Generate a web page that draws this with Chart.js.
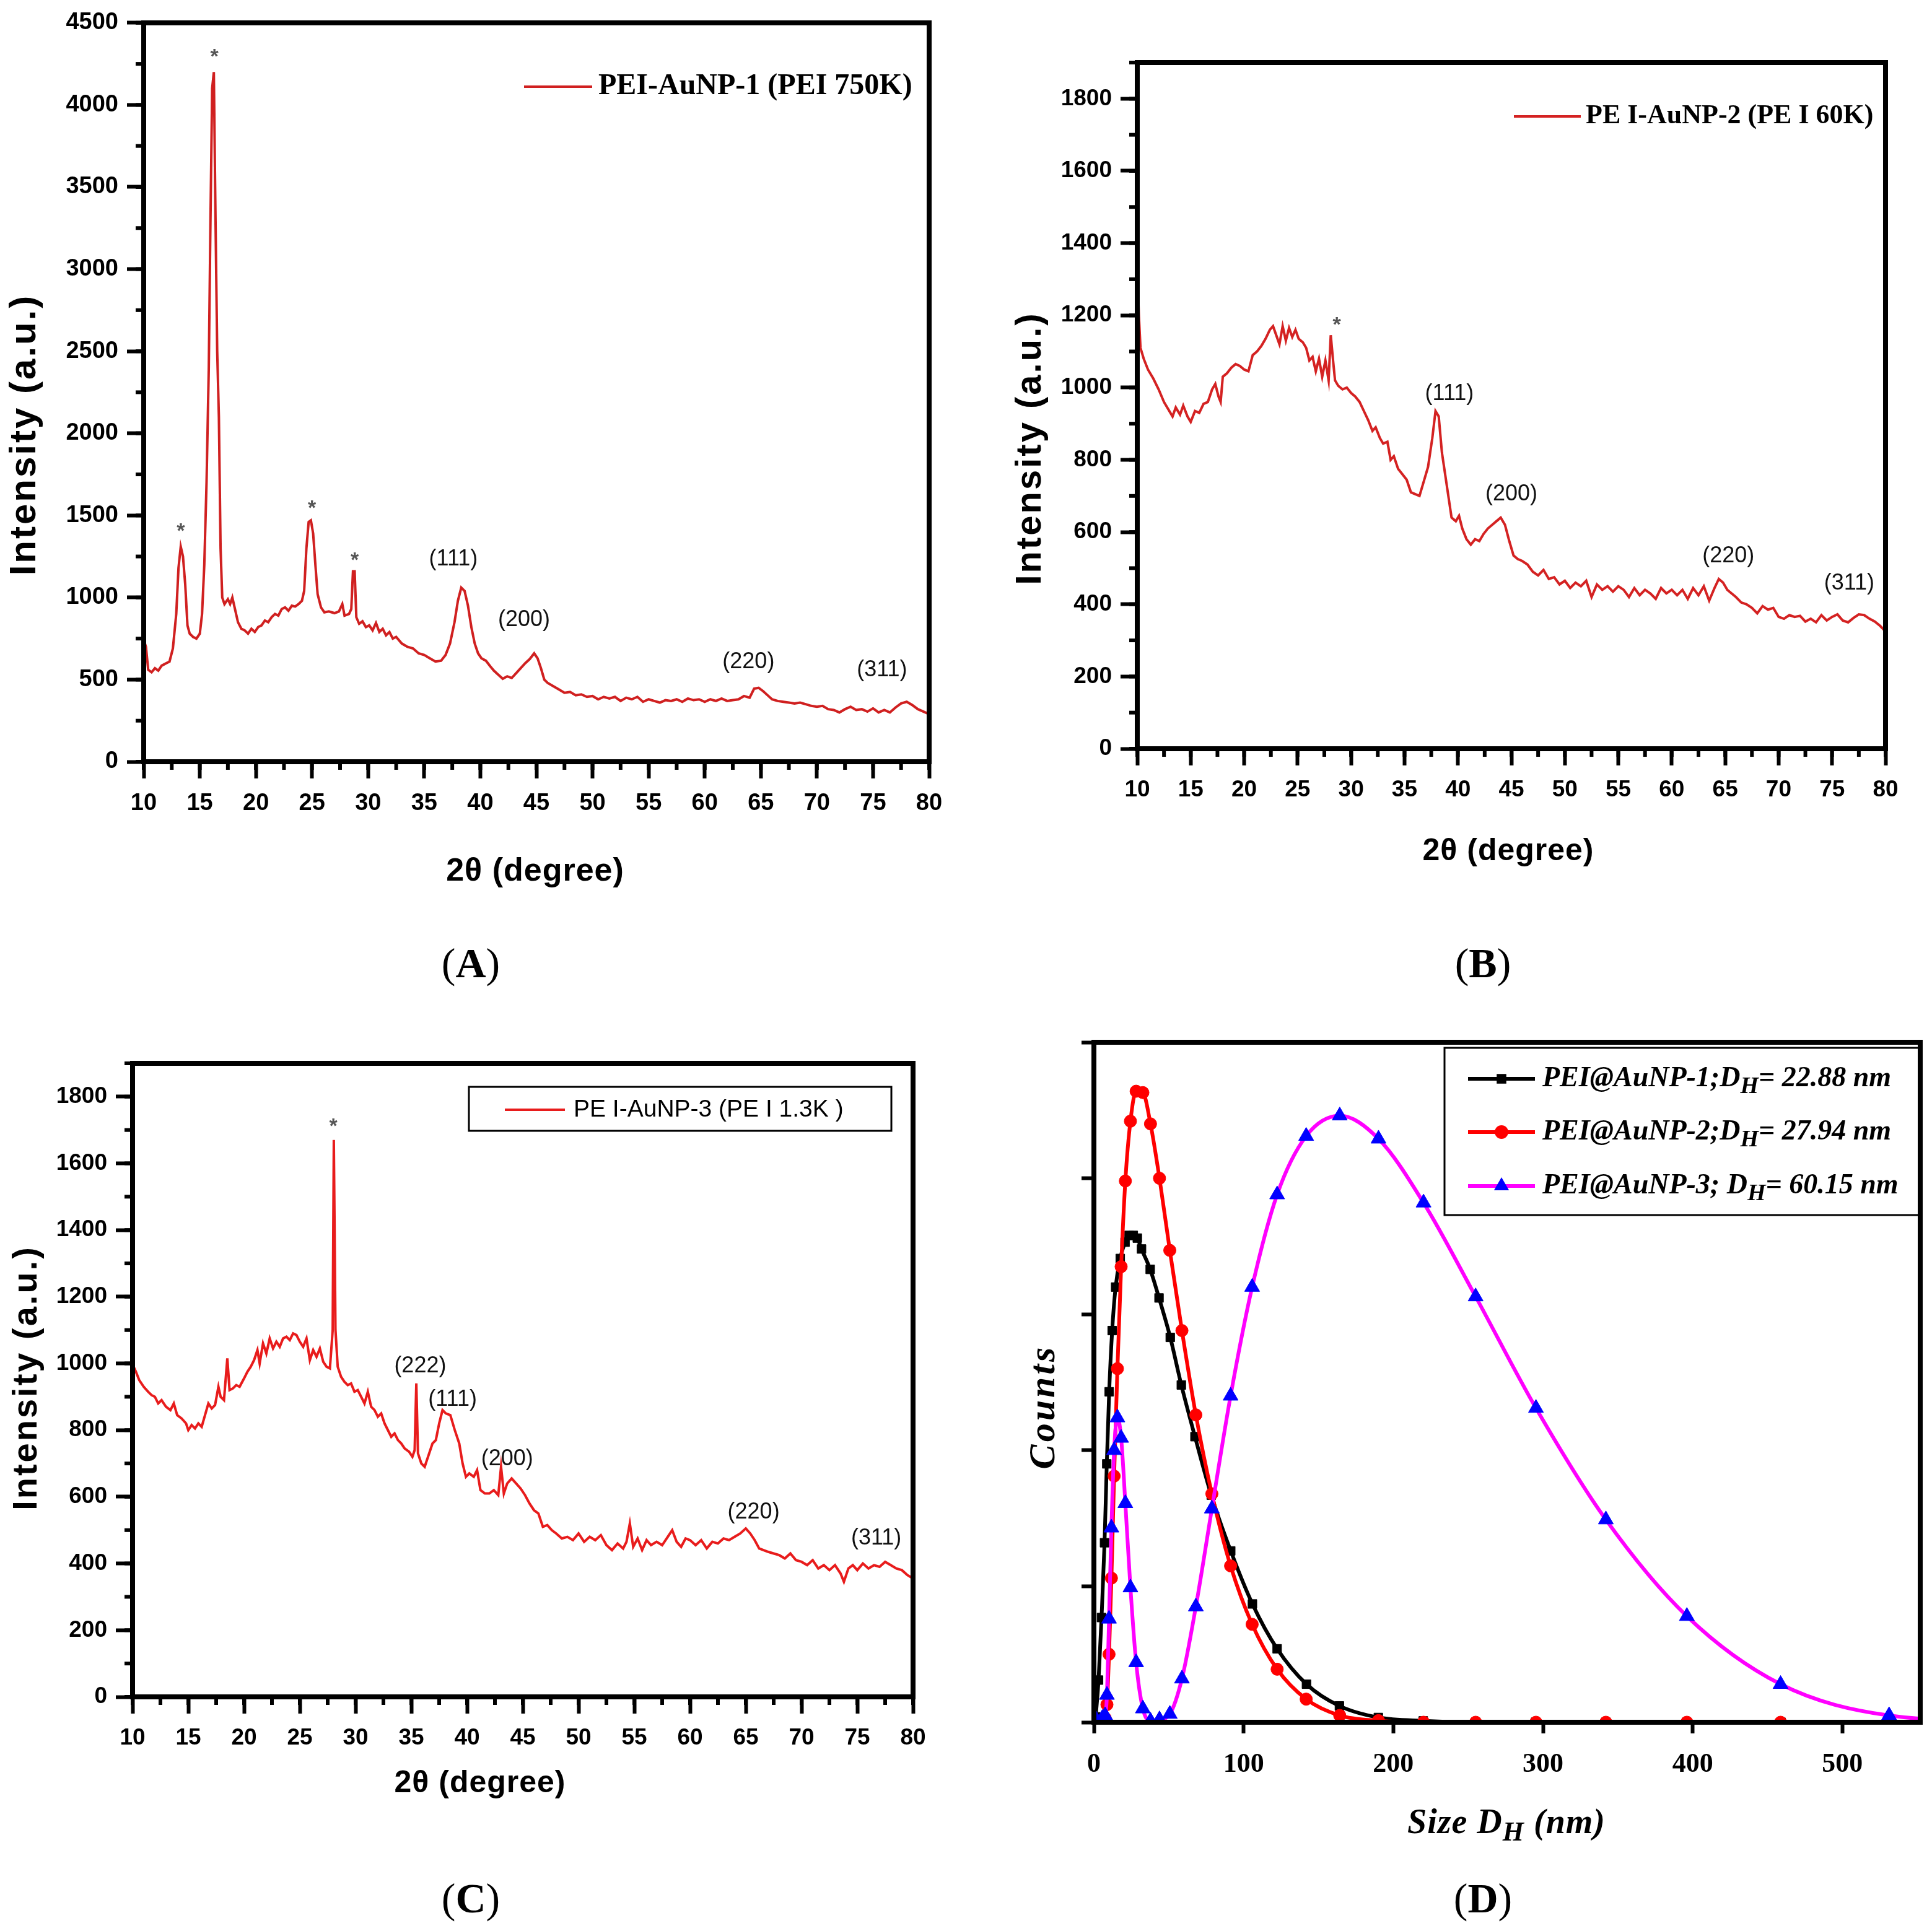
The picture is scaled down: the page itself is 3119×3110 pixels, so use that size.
<!DOCTYPE html>
<html>
<head>
<meta charset="utf-8">
<script src="https://cdn.jsdelivr.net/npm/chart.js@4.4.0/dist/chart.umd.min.js"></script>
<style>
    body { margin: 0; background: #fff; width: 3119px; height: 3110px; position: relative; overflow: hidden; }
    canvas { position: absolute; }
</style>
</head>
<body>
<canvas id="chartA" width="1560" height="1640" style="left:0;top:0"></canvas>
<canvas id="chartB" width="1559" height="1640" style="left:1560px;top:0"></canvas>
<canvas id="chartC" width="1560" height="1470" style="left:0;top:1640px"></canvas>
<canvas id="chartD" width="1559" height="1470" style="left:1560px;top:1640px"></canvas>
<script>
// XRD patterns (A-C) and DLS size distributions (D)

// ---- data ----
const thetaA = [10.0,10.2,10.4,10.7,11.0,11.3,11.6,12.0,12.3,12.6,12.9,13.1,13.3,13.5,13.7,13.9,14.1,14.4,14.7,15.0,
    15.2,15.4,15.6,15.8,15.95,16.1,16.25,16.4,16.55,16.7,16.85,17.0,17.2,17.5,17.7,17.9,18.1,18.4,18.7,19.0,
    19.3,19.6,19.9,20.2,20.5,20.8,21.1,21.4,21.7,22.0,22.3,22.6,22.9,23.2,23.5,23.8,24.1,24.3,24.5,24.7,
    24.9,25.1,25.3,25.5,25.8,26.1,26.5,27.0,27.4,27.7,27.9,28.3,28.5,28.65,28.8,28.95,29.2,29.5,29.8,30.1,
    30.4,30.7,31.0,31.3,31.6,31.9,32.2,32.5,33.0,33.5,34.0,34.5,35.0,35.5,36.0,36.5,36.9,37.3,37.7,38.0,
    38.3,38.6,38.9,39.2,39.5,39.8,40.1,40.5,40.9,41.2,41.6,42.0,42.4,42.8,43.2,43.6,44.0,44.4,44.8,45.1,
    45.4,45.7,46.0,46.5,47.0,47.5,48.0,48.5,49.0,49.5,50.0,50.5,51.0,51.5,52.0,52.5,53.0,53.5,54.0,54.5,
    55.0,55.5,56.0,56.5,57.0,57.5,58.0,58.5,59.0,59.5,60.0,60.5,61.0,61.5,62.0,62.5,63.0,63.5,64.0,64.4,
    64.8,65.2,65.6,66.0,66.5,67.0,67.5,68.0,68.5,69.0,69.5,70.0,70.5,71.0,71.5,72.0,72.5,73.0,73.5,74.0,
    74.5,75.0,75.5,76.0,76.5,77.0,77.5,78.0,78.5,79.0,79.5,80.0];
const intensityA = [744,700,560,545,570,555,585,600,610,690,900,1180,1310,1250,1080,830,780,760,750,780,
    900,1200,1700,2400,3300,4100,4200,3300,2500,2100,1300,1000,960,990,960,1000,940,850,810,800,
    780,810,790,820,830,860,850,880,900,890,930,940,920,950,945,960,980,1040,1300,1460,
    1470,1390,1200,1020,940,910,915,905,915,960,890,900,930,1160,1160,880,840,855,820,830,
    800,845,790,810,770,790,750,760,720,700,690,660,650,630,610,615,650,720,850,980,
    1060,1040,950,820,720,660,630,615,580,555,530,505,520,510,540,570,600,625,660,630,
    570,500,480,460,440,420,425,405,410,395,400,380,395,385,395,370,390,380,395,365,
    380,370,360,375,370,380,365,385,375,380,365,380,370,385,370,375,380,400,390,445,
    450,430,405,380,370,365,360,355,360,350,340,335,340,320,315,300,320,335,315,320,
    305,325,300,315,300,330,355,365,345,320,305,290];

const thetaB = [10.0,10.15,10.3,10.6,11.0,11.5,12.0,12.5,13.0,13.3,13.6,14.0,14.3,14.7,15.0,15.4,15.8,16.2,16.6,17.0,
    17.3,17.6,17.8,18.0,18.4,18.8,19.2,19.6,20.0,20.4,20.8,21.2,21.6,22.0,22.4,22.7,23.0,23.3,23.6,23.9,
    24.2,24.5,24.8,25.1,25.5,25.8,26.1,26.4,26.7,27.0,27.3,27.6,27.9,28.1,28.3,28.5,28.8,29.2,29.6,30.0,
    30.4,30.8,31.2,31.6,32.0,32.3,32.7,33.0,33.4,33.7,34.0,34.4,34.8,35.2,35.6,36.0,36.4,36.8,37.2,37.6,
    37.9,38.2,38.5,38.8,39.1,39.4,39.8,40.1,40.4,40.8,41.2,41.6,42.0,42.4,42.8,43.2,43.6,44.0,44.4,44.8,
    45.2,45.6,46.0,46.5,47.0,47.5,48.0,48.5,49.0,49.5,50.0,50.5,51.0,51.5,52.0,52.5,53.0,53.5,54.0,54.5,
    55.0,55.5,56.0,56.5,57.0,57.5,58.0,58.5,59.0,59.5,60.0,60.5,61.0,61.5,62.0,62.5,63.0,63.5,64.0,64.4,
    64.8,65.2,65.6,66.0,66.5,67.0,67.5,68.0,68.5,69.0,69.5,70.0,70.5,71.0,71.5,72.0,72.5,73.0,73.5,74.0,
    74.5,75.0,75.5,76.0,76.5,77.0,77.5,78.0,78.5,79.0,79.5,80.0];
const intensityB = [1330,1200,1110,1080,1050,1025,995,960,935,920,945,925,950,920,905,935,930,955,960,995,
    1010,975,960,1030,1040,1055,1065,1060,1050,1045,1090,1100,1115,1135,1160,1170,1145,1120,1170,1130,
    1165,1140,1160,1135,1125,1110,1075,1085,1045,1080,1030,1075,1020,1145,1080,1020,1005,995,1000,985,
    975,960,935,910,880,890,860,845,850,800,810,775,760,745,710,705,700,740,780,860,
    935,920,820,760,700,640,630,645,610,580,565,580,575,595,610,620,630,640,620,575,
    535,525,520,510,490,480,495,470,475,455,465,445,460,450,465,420,455,440,450,435,
    450,440,420,445,425,440,430,415,445,430,440,425,440,415,445,425,450,410,445,470,
    460,440,430,420,405,400,390,375,395,385,390,365,360,370,365,368,352,360,350,370,
    355,365,372,355,350,362,372,370,360,352,340,325];

const thetaC = [10.0,10.1,10.3,10.6,11.0,11.4,11.7,12.0,12.3,12.6,13.0,13.4,13.7,14.0,14.4,14.8,15.0,15.3,15.6,15.9,
    16.2,16.5,16.8,17.1,17.4,17.7,17.9,18.2,18.5,18.7,19.0,19.3,19.6,20.0,20.3,20.6,20.9,21.2,21.4,21.7,
    22.0,22.3,22.6,22.9,23.2,23.5,23.8,24.1,24.4,24.7,25.0,25.3,25.6,25.9,26.2,26.5,26.8,27.1,27.4,27.7,
    27.95,28.05,28.2,28.4,28.7,29.0,29.3,29.6,29.9,30.2,30.5,30.8,31.1,31.4,31.7,32.0,32.3,32.6,32.9,33.2,
    33.5,33.8,34.1,34.4,34.8,35.1,35.3,35.45,35.6,35.9,36.2,36.5,36.9,37.2,37.5,37.8,38.1,38.5,38.9,39.3,
    39.6,39.9,40.2,40.6,40.9,41.2,41.6,42.0,42.4,42.8,43.05,43.3,43.6,44.0,44.4,44.8,45.2,45.6,46.0,46.4,
    46.8,47.2,47.6,48.0,48.5,49.0,49.5,50.0,50.5,51.0,51.5,52.0,52.5,53.0,53.5,54.0,54.3,54.6,54.9,55.3,
    55.7,56.1,56.5,57.0,57.5,58.0,58.4,58.8,59.2,59.6,60.0,60.5,61.0,61.5,62.0,62.5,63.0,63.5,64.0,64.5,
    65.0,65.4,65.8,66.2,66.6,67.0,67.5,68.0,68.5,69.0,69.5,70.0,70.5,71.0,71.5,72.0,72.5,73.0,73.5,73.8,
    74.2,74.6,75.0,75.5,76.0,76.5,77.0,77.5,78.0,78.5,79.0,79.5,80.0];
const intensityC = [1220,990,975,950,930,915,905,900,880,890,870,860,880,845,835,820,800,815,805,820,
    810,845,880,865,875,930,900,890,1015,920,925,935,930,955,975,990,1010,1040,1000,1060,
    1030,1075,1045,1065,1050,1075,1080,1070,1090,1085,1065,1050,1075,1010,1040,1020,1045,1005,990,985,
    1100,1670,1100,990,960,945,935,940,915,920,900,880,915,870,860,840,850,820,800,780,
    790,770,760,745,735,720,740,940,730,700,690,720,760,770,820,860,850,845,800,760,
    700,660,670,660,680,620,610,610,620,605,690,610,640,655,640,625,605,580,560,550,
    510,515,500,490,475,480,470,490,465,480,470,485,455,440,460,445,465,520,450,475,
    440,470,455,465,455,480,500,465,450,475,470,455,470,445,465,460,475,470,480,490,
    505,490,470,445,440,435,430,425,415,430,410,405,395,410,385,395,380,395,370,345,
    385,395,380,400,385,395,390,405,395,385,380,365,355];

const sizeD1 = [1.2,3.1,5.1,7.1,8.6,10.2,12.2,14.5,17.6,20.8,23.5,26.3,29.0,31.8,37.6,43.5,51.0,58.4,67.5,78.4,
    91.4,105.9,122.4,142.0,164.0,190.0,220.0,255.0,295.0,342.0,396.0,459.0,532.0];
const countsD1 = [0.04,0.31,0.77,1.32,1.90,2.43,2.88,3.20,3.41,3.53,3.58,3.58,3.56,3.48,3.33,3.12,2.83,2.48,2.10,1.67,
    1.26,0.87,0.54,0.28,0.12,0.035,0.01,0,0,0,0,0,0];

const sizeD2 = [6.5,7.5,8.7,10.1,11.7,13.5,15.7,18.2,21.0,24.4,28.2,32.7,37.8,43.8,50.7,58.8,68.1,78.8,91.3,105.7,
    122.4,141.8,164.2,190.1,220.2,255.0,295.3,342.0,396.1,458.7,531.2];
const countsD2 = [0,0.03,0.13,0.50,1.06,1.81,2.60,3.35,3.98,4.42,4.64,4.63,4.40,4.00,3.47,2.88,2.26,1.68,1.15,0.72,
    0.39,0.17,0.05,0.012,0,0,0,0,0,0,0];

const sizeD3 = [1.0,5.6,7.5,8.7,10.1,11.7,13.5,15.7,18.2,21.0,24.4,28.2,32.7,37.8,43.8,50.7,58.8,68.1,78.8,91.3,
    105.7,122.4,141.8,164.2,190.1,220.2,255.0,295.3,342.0,396.1,458.7,531.2,615.1];
const countsD3 = [0.03,0.03,0.05,0.20,0.76,1.43,2.00,2.24,2.09,1.61,0.99,0.44,0.10,0.01,0.02,0.06,0.32,0.85,1.57,2.40,
    3.20,3.88,4.31,4.46,4.29,3.82,3.13,2.31,1.49,0.78,0.28,0.05,0.005];

// tick values
const xrdTicks = [10,15,20,25,30,35,40,45,50,55,60,65,70,75,80];
const yTicksA = [0,500,1000,1500,2000,2500,3000,3500,4000,4500];
const yTicksBC = [0,200,400,600,800,1000,1200,1400,1600,1800];
const dlsTicksX = [0,100,200,300,400,500];
const dlsTicksY = [0,1,2,3,4,5];

// peak labels: [2theta, intensity, text]
const peaksA = [[13.3,1400,'*'],[16.3,4290,'*'],[25.0,1540,'*'],[28.8,1225,'*'],
    [37.6,1232,'(111)'],[43.9,864,'(200)'],[63.9,608,'(220)'],[75.8,556,'(311)']];
const peaksB = [[28.66,1171,'*'],[39.2,982,'(111)'],[45.0,705,'(200)'],[65.3,533,'(220)'],[76.6,458,'(311)']];
const peaksC = [[28.0,1709,'*'],[35.8,992,'(222)'],[38.7,892,'(111)'],[43.6,713,'(200)'],[65.7,553,'(220)'],[76.7,475,'(311)']];

const SANS = '"Liberation Sans", Arial, sans-serif';
const SERIF = '"Liberation Serif", "Times New Roman", serif';

// draw a row of text pieces [text, font, dy], centred (or left) at x
function drawRuns(ctx, runs, x, y, align) {
    let total = 0;
    runs.forEach(r => { ctx.font = r[1]; total += ctx.measureText(r[0]).width; });
    let cx = align === 'left' ? x : x - total / 2;
    ctx.textAlign = 'left';
    ctx.textBaseline = 'middle';
    runs.forEach(r => {
        ctx.font = r[1];
        ctx.fillText(r[0], cx, y + (r[2] || 0));
        cx += ctx.measureText(r[0]).width;
    });
}

const decor = {
    id: 'decor',
    afterDraw(chart, args, o) {
        const ctx = chart.ctx, a = chart.chartArea;
        const xs = chart.scales.x, ys = chart.scales.y;
        const ox = o.origin[0], oy = o.origin[1];
        ctx.save();
        ctx.strokeStyle = '#000';
        ctx.fillStyle = '#000';

        // minor ticks
        ctx.lineWidth = 6;
        if (o.minorX) {
            for (let v = xs.min; v <= xs.max + 1e-9; v += o.minorX) {
                const px = xs.getPixelForValue(v);
                ctx.beginPath(); ctx.moveTo(px, a.bottom); ctx.lineTo(px, a.bottom + o.minorLen); ctx.stroke();
            }
        }
        if (o.minorY) {
            for (let v = ys.min; v <= ys.max + 1e-9; v += o.minorY) {
                const py = ys.getPixelForValue(v);
                ctx.beginPath(); ctx.moveTo(a.left, py); ctx.lineTo(a.left - o.minorLen, py); ctx.stroke();
            }
        }

        // frame
        ctx.lineWidth = o.frameWidth;
        ctx.strokeRect(a.left, a.top, a.right - a.left, a.bottom - a.top);

        // peak labels
        (o.peaks || []).forEach(p => {
            const star = p[2] === '*';
            ctx.fillStyle = star ? '#555' : '#111';
            ctx.font = star ? 'bold 34px ' + SANS : '36px ' + SANS;
            ctx.textAlign = 'center';
            ctx.textBaseline = 'middle';
            ctx.fillText(p[2], xs.getPixelForValue(p[0]), ys.getPixelForValue(p[1]));
        });
        ctx.fillStyle = '#000';

        // legend box
        if (o.legendBox) {
            const b = o.legendBox;
            ctx.lineWidth = 3;
            ctx.strokeRect(b[0] - ox, b[1] - oy, b[2] - b[0], b[3] - b[1]);
        }
        (o.legend || []).forEach(e => {
            ctx.strokeStyle = e.color;
            ctx.lineWidth = e.lineWidth;
            ctx.beginPath(); ctx.moveTo(e.x1 - ox, e.y - oy); ctx.lineTo(e.x2 - ox, e.y - oy); ctx.stroke();
            if (e.marker) {
                ctx.fillStyle = e.markerColor;
                ctx.strokeStyle = e.markerColor;
                ctx.lineWidth = 1;
                Chart.helpers.drawPoint(ctx, {pointStyle: e.marker, radius: e.radius, rotation: 0},
                    (e.x1 + e.x2) / 2 - ox, e.y - oy);
            }
            ctx.fillStyle = '#000';
            drawRuns(ctx, e.runs, e.tx - ox, e.y - oy, 'left');
        });

        // axis titles
        if (o.xTitle) {
            if (o.xTitle.spacing) ctx.letterSpacing = o.xTitle.spacing;
            drawRuns(ctx, o.xTitle.runs, o.xTitle.x - ox, o.xTitle.y - oy);
            ctx.letterSpacing = '0px';
        }
        if (o.yTitle) {
            ctx.save();
            ctx.translate(o.yTitle.x - ox, o.yTitle.y - oy);
            ctx.rotate(-Math.PI / 2);
            if (o.yTitle.spacing) ctx.letterSpacing = o.yTitle.spacing;
            drawRuns(ctx, o.yTitle.runs, 0, 0);
            ctx.restore();
        }

        // panel label
        if (o.panel) {
            const f = '68px ' + SERIF;
            drawRuns(ctx, [['(', f], [o.panel.text, 'bold ' + f], [')', f]], o.panel.x - ox, o.panel.y - oy);
        }
        ctx.restore();
    }
};

function axisCommon(tickValues, font, tickLen, pad) {
    return {
        type: 'linear',
        afterBuildTicks: s => { s.ticks = tickValues.map(v => ({value: v})); },
        ticks: {
            color: '#000',
            font: font,
            padding: pad,
            autoSkip: false,
            maxRotation: 0,
            callback: v => String(v)
        },
        grid: {
            drawOnChartArea: false,
            color: '#000',
            tickLength: tickLen,
            tickWidth: 6
        },
        border: { display: false }
    };
}

function makeChart(id, frame, origin, size, datasets, xAxis, yAxis, deco) {
    xAxis.afterFit = s => { s.height = origin[1] + size[1] - frame.bottom; };
    yAxis.afterFit = s => { s.width = frame.left - origin[0]; };
    deco.origin = origin;
    return new Chart(document.getElementById(id), {
        type: 'line',
        data: { datasets: datasets },
        options: {
            responsive: false,
            animation: false,
            devicePixelRatio: 1,
            events: [],
            layout: {
                padding: {
                    left: 0, bottom: 0,
                    top: frame.top - origin[1],
                    right: origin[0] + size[0] - frame.right
                }
            },
            scales: { x: xAxis, y: yAxis },
            plugins: { legend: { display: false }, tooltip: { enabled: false }, decor: deco }
        },
        plugins: [decor]
    });
}

function xrdSeries(theta, intensity, color) {
    return {
        data: theta.map((t, i) => ({x: t, y: intensity[i]})),
        borderColor: color,
        borderWidth: 4,
        pointRadius: 0,
        tension: 0
    };
}

function xrdAxes(yTicks, ymax, fontSize) {
    const tickFont = {family: SANS, size: fontSize, weight: 'bold'};
    const x = axisCommon(xrdTicks, tickFont, 27, 18);
    x.min = 10; x.max = 80;
    const y = axisCommon(yTicks, tickFont, 27, 14);
    y.min = 0; y.max = ymax;
    return [x, y];
}

function xrdLegend(x1, x2, tx, y, color, text, font) {
    return [{x1: x1, x2: x2, tx: tx, y: y, color: color, lineWidth: 4, runs: [[text, font]]}];
}

// Panel A
(function() {
    const ax = xrdAxes(yTicksA, 4500, 38);
    makeChart('chartA', {left: 232, top: 32, right: 1500, bottom: 1230}, [0, 0], [1560, 1640],
        [xrdSeries(thetaA, intensityA, '#d02020')], ax[0], ax[1], {
            minorX: 2.5, minorY: 250, minorLen: 13, frameWidth: 8,
            peaks: peaksA,
            legend: xrdLegend(846, 956, 966, 140, '#d02020', 'PEI-AuNP-1 (PEI 750K)', 'bold 48px ' + SERIF),
            xTitle: {x: 864, y: 1408, runs: [['2θ (degree)', 'bold 52px ' + SANS]], spacing: '1px'},
            yTitle: {x: 40, y: 702, runs: [['Intensity (a.u.)', 'bold 60px ' + SANS]], spacing: '3px'},
            panel: {x: 760, y: 1560, text: 'A'}
        });
})();

// Panel B
(function() {
    const ax = xrdAxes(yTicksBC, 1900, 37);
    makeChart('chartB', {left: 1836, top: 101, right: 3044, bottom: 1209}, [1560, 0], [1559, 1640],
        [xrdSeries(thetaB, intensityB, '#d42222')], ax[0], ax[1], {
            minorX: 2.5, minorY: 100, minorLen: 13, frameWidth: 8,
            peaks: peaksB,
            legend: xrdLegend(2444, 2552, 2560, 188, '#d42222', 'PE I-AuNP-2 (PE I 60K)', 'bold 44px ' + SERIF),
            xTitle: {x: 2435, y: 1375, runs: [['2θ (degree)', 'bold 50px ' + SANS]], spacing: '1px'},
            yTitle: {x: 1664, y: 724, runs: [['Intensity (a.u.)', 'bold 58px ' + SANS]], spacing: '3px'},
            panel: {x: 2394, y: 1560, text: 'B'}
        });
})();

// Panel C
(function() {
    const ax = xrdAxes(yTicksBC, 1900, 37);
    makeChart('chartC', {left: 214, top: 1717, right: 1474, bottom: 2740}, [0, 1640], [1560, 1470],
        [xrdSeries(thetaC, intensityC, '#e81c1c')], ax[0], ax[1], {
            minorX: 2.5, minorY: 100, minorLen: 13, frameWidth: 8,
            peaks: peaksC,
            legendBox: [757, 1755, 1439, 1826],
            legend: xrdLegend(815, 912, 926, 1792, '#e81c1c', 'PE I-AuNP-3 (PE I 1.3K )', '39px ' + SANS),
            xTitle: {x: 775, y: 2880, runs: [['2θ (degree)', 'bold 50px ' + SANS]], spacing: '1px'},
            yTitle: {x: 44, y: 2225, runs: [['Intensity (a.u.)', 'bold 56px ' + SANS]], spacing: '3px'},
            panel: {x: 760, y: 3070, text: 'C'}
        });
})();

// Panel D
(function() {
    const tickFont = {family: SERIF, size: 44, weight: 'bold'};
    const x = axisCommon(dlsTicksX, tickFont, 18, 24);
    x.min = 0; x.max = 552;
    const y = axisCommon(dlsTicksY, tickFont, 20, 10);
    y.min = 0; y.max = 5;
    y.ticks.display = false;

    function dls(sz, cnt, color, marker, mColor, radius, order) {
        return {
            data: sz.map((s, i) => ({x: s, y: cnt[i]})),
            borderColor: color,
            borderWidth: 6,
            pointStyle: marker,
            pointRadius: radius,
            pointBackgroundColor: mColor,
            pointBorderColor: mColor,
            pointBorderWidth: 1,
            cubicInterpolationMode: 'monotone',
            order: order
        };
    }

    const lf = 'italic bold 46px ' + SERIF;
    const sf = 'italic bold 38px ' + SERIF;
    makeChart('chartD', {left: 1766, top: 1683, right: 3100, bottom: 2781}, [1560, 1640], [1559, 1470],
        [dls(sizeD1, countsD1, '#000', 'rect', '#000', 10, 3),
         dls(sizeD2, countsD2, '#ff0000', 'circle', '#ff0000', 10, 2),
         dls(sizeD3, countsD3, '#ff00ff', 'triangle', '#0000ff', 14, 1)], x, y, {
            frameWidth: 8,
            legendBox: [2332, 1692, 3100, 1962],
            legend: [
                {x1: 2370, x2: 2478, tx: 2490, y: 1742, color: '#000', lineWidth: 6, marker: 'rect', markerColor: '#000', radius: 11,
                 runs: [['PEI@AuNP-1;D', lf], ['H', sf, 13], ['= 22.88 nm', lf]]},
                {x1: 2370, x2: 2478, tx: 2490, y: 1828, color: '#ff0000', lineWidth: 6, marker: 'circle', markerColor: '#ff0000', radius: 11,
                 runs: [['PEI@AuNP-2;D', lf], ['H', sf, 13], ['= 27.94 nm', lf]]},
                {x1: 2370, x2: 2478, tx: 2490, y: 1915, color: '#ff00ff', lineWidth: 6, marker: 'triangle', markerColor: '#0000ff', radius: 14,
                 runs: [['PEI@AuNP-3; D', lf], ['H', sf, 13], ['= 60.15 nm', lf]]}
            ],
            xTitle: {x: 2432, y: 2946, runs: [['Size D', 'italic bold 56px ' + SERIF], ['H', 'italic bold 44px ' + SERIF, 15], [' (nm)', 'italic bold 56px ' + SERIF]], spacing: '1px'},
            yTitle: {x: 1686, y: 2272, runs: [['Counts', 'italic bold 60px ' + SERIF]], spacing: '4px'},
            panel: {x: 2394, y: 3070, text: 'D'}
        });
})();
</script>
</body>
</html>
